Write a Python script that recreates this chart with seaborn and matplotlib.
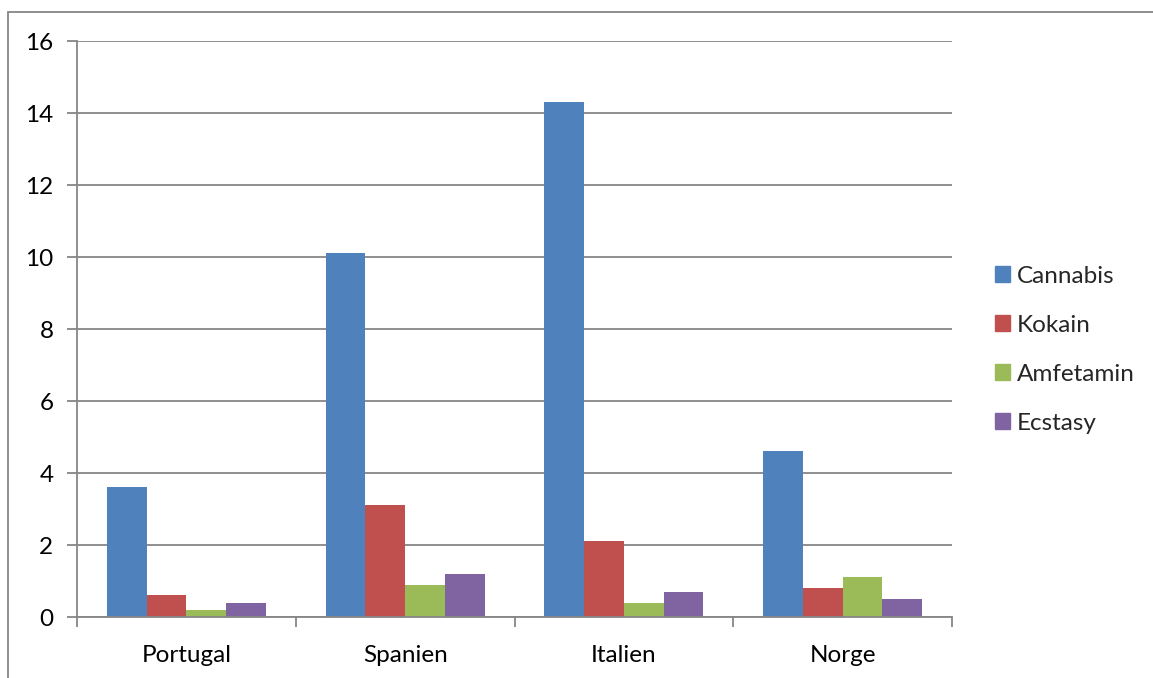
import matplotlib
matplotlib.use("Agg")
import matplotlib.pyplot as plt
import matplotlib.patches as mpatches
import pandas as pd
import seaborn as sns

# Data
countries = ["Portugal", "Spanien", "Italien", "Norge"]
drugs = ["Cannabis", "Kokain", "Amfetamin", "Ecstasy"]
cannabis = [3.6, 10.1, 14.3, 4.6]
kokain = [0.6, 3.1, 2.1, 0.8]
amfetamin = [0.2, 0.9, 0.4, 1.1]
ecstasy = [0.4, 1.2, 0.7, 0.5]
y_ticks = [0, 2, 4, 6, 8, 10, 12, 14, 16]

colors = ["#4F81BD", "#C0504D", "#9BBB59", "#8064A2"]
grid_color = "#868686"
font_size = 17.5

rows = []
for drug, vals in zip(drugs, [cannabis, kokain, amfetamin, ecstasy]):
    for c, v in zip(countries, vals):
        rows.append({"Land": c, "Stof": drug, "Andel": v})
df = pd.DataFrame(rows)

sns.set_theme(style="white")
plt.rcParams["font.family"] = ["Lato", "DejaVu Sans"]

W, H = 1153, 678
fig = plt.figure(figsize=(W / 100, H / 100), dpi=100)
ax = fig.add_axes([77 / W, 1 - 617 / H, (952 - 77) / W, (617 - 41) / H])

sns.barplot(data=df, x="Land", y="Andel", hue="Stof", order=countries,
            hue_order=drugs, palette=colors, saturation=1, width=4 / 5.5,
            dodge=True, linewidth=0, ax=ax, legend=False, zorder=3)

ax.set_ylim(0, 16)
ax.set_xlim(-0.5, len(countries) - 0.5)
ax.set_yticks(y_ticks)
ax.set_yticklabels([str(t) for t in y_ticks])
ax.set_xlabel("")
ax.set_ylabel("")

ax.yaxis.grid(True, color=grid_color, linewidth=1.3, zorder=0)
ax.set_axisbelow(True)
for s in ["top", "right"]:
    ax.spines[s].set_visible(False)
for s in ["left", "bottom"]:
    ax.spines[s].set_color(grid_color)
    ax.spines[s].set_linewidth(1.3)
    ax.spines[s].set_zorder(4)

ax.tick_params(axis="y", which="major", length=7, width=1.3, color=grid_color,
               direction="out", labelsize=font_size, pad=10, left=True)
ax.tick_params(axis="x", which="major", length=0, labelsize=font_size, pad=20)
ax.set_xticks([i - 0.5 for i in range(len(countries) + 1)], minor=True)
ax.tick_params(axis="x", which="minor", length=7, width=1.3, color=grid_color,
               direction="out", bottom=True)
for lbl in ax.get_xticklabels() + ax.get_yticklabels():
    lbl.set_color("black")

handles = [mpatches.Patch(color=c, label=d) for c, d in zip(colors, drugs)]
fig.legend(handles=handles, loc="upper left",
           bbox_to_anchor=(985 / W, 1 - 256 / H), frameon=False,
           fontsize=font_size, handlelength=0.62, handleheight=0.62,
           handletextpad=0.3, labelspacing=1.15, borderaxespad=0)

# outer chart frame (top and left edges visible)
frame = mpatches.Rectangle((8 / W, -0.1), 1.2, 1 - 12 / H + 0.1,
                           transform=fig.transFigure, fill=False,
                           edgecolor=grid_color, linewidth=1.3)
fig.patches.append(frame)

fig.savefig("out.png", dpi=100)
